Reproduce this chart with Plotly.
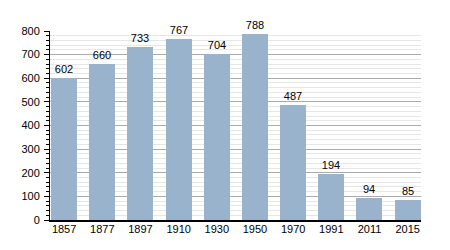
import plotly.graph_objects as go

years = ["1857", "1877", "1897", "1910", "1930", "1950", "1970", "1991", "2011", "2015"]
population = [602, 660, 733, 767, 704, 788, 487, 194, 94, 85]
y_ticks = [0, 100, 200, 300, 400, 500, 600, 700, 800]

fig = go.Figure(go.Bar(
    x=list(range(len(years))),
    y=population,
    width=0.68,
    marker=dict(color="rgb(153,179,205)", line=dict(width=0)),
    text=[str(v) for v in population],
    textposition="outside",
    textfont=dict(family="Liberation Sans, Arial, sans-serif", size=11, color="black"),
    cliponaxis=False,
))

fig.update_layout(
    width=450, height=250,
    margin=dict(l=50, r=29, t=31, b=30),
    paper_bgcolor="white", plot_bgcolor="white",
    font=dict(family="Liberation Sans, Arial, sans-serif", size=11, color="black"),
    showlegend=False,
    bargap=0,
)
fig.update_xaxes(
    tickmode="array",
    tickvals=list(range(len(years))),
    ticktext=years,
    range=[-0.37, 9.35],
    showline=True, linecolor="black", linewidth=1.5,
    showgrid=False, ticks="", zeroline=False,
    ticklabelstandoff=-2,
)
fig.update_yaxes(
    range=[0, 800],
    tickmode="array", tickvals=y_ticks,
    showline=True, linecolor="black", linewidth=1,
    ticks="outside", ticklen=5, tickcolor="black",
    showgrid=True, gridcolor="rgb(170,170,170)", gridwidth=1,
    zeroline=False,
    ticklabelstandoff=2,
    minor=dict(dtick=20, tick0=0, showgrid=True, gridcolor="rgb(230,230,230)",
               ticks="outside", ticklen=3, tickcolor="black"),
)

fig.write_html("out.html")
